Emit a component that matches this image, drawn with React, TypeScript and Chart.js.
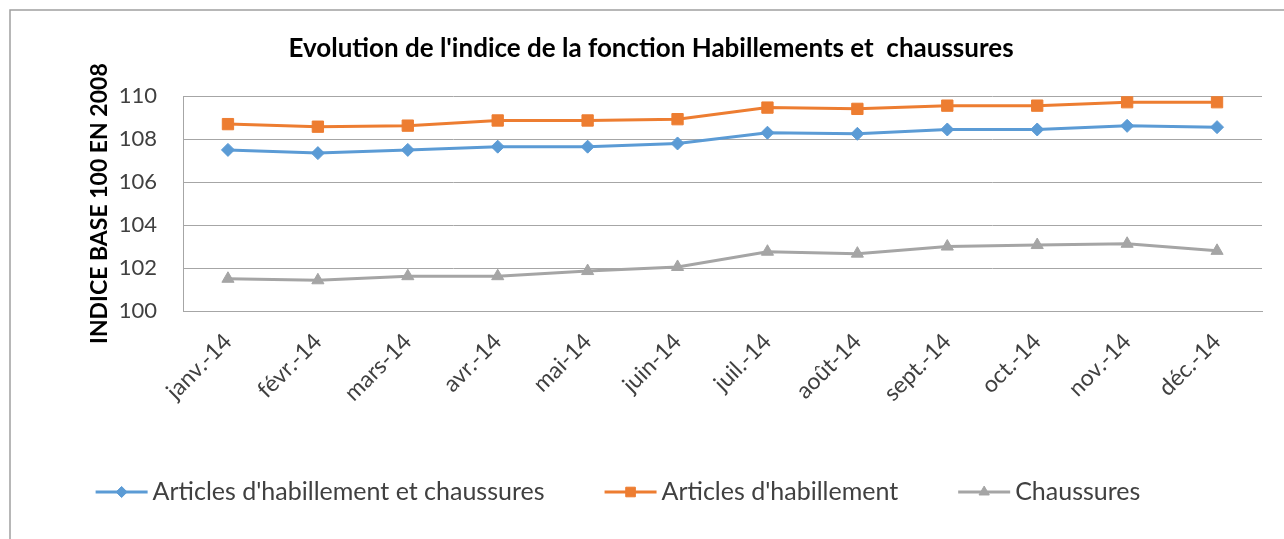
import React, { useEffect, useRef } from 'react';
import { Chart, registerables } from 'chart.js';
import { drawPoint } from 'chart.js/helpers';

Chart.register(...registerables);

const months = ['janv.-14', 'févr.-14', 'mars-14', 'avr.-14', 'mai-14', 'juin-14', 'juil.-14', 'août-14', 'sept.-14', 'oct.-14', 'nov.-14', 'déc.-14'];
const articlesEtChaussures = [107.5, 107.35, 107.5, 107.65, 107.65, 107.8, 108.3, 108.25, 108.45, 108.45, 108.62, 108.56];
const articlesHabillement = [108.7, 108.58, 108.63, 108.87, 108.87, 108.93, 109.47, 109.41, 109.56, 109.56, 109.72, 109.72];
const chaussures = [101.5, 101.43, 101.62, 101.62, 101.86, 102.05, 102.76, 102.67, 103.0, 103.07, 103.13, 102.8];
const seriesLabels = ["Articles d'habillement et chaussures", "Articles d'habillement", 'Chaussures'];
const yMin = 100;
const yMax = 110;
const yStep = 2;
const titleText = "Evolution de l'indice de la fonction Habillements et  chaussures";
const yTitleText = 'INDICE BASE 100 EN 2008';

const FONT = 'Lato';
const TEXT_GRAY = '#404040';
const GRID = '#a6a6a6';

const framePlugin = {
  id: 'frame',
  beforeDraw(chart: any) {
    const { ctx, width, height } = chart;
    ctx.save();
    ctx.fillStyle = '#ffffff';
    ctx.fillRect(0, 0, width, height);
    ctx.strokeStyle = '#a0a0a0';
    ctx.lineWidth = 1.5;
    ctx.beginPath();
    ctx.moveTo(10, height);
    ctx.lineTo(10, 10);
    ctx.lineTo(width, 10);
    ctx.stroke();
    ctx.restore();
  },
};

const legendPlugin = {
  id: 'customLegend',
  afterDraw(chart: any) {
    const { ctx } = chart;
    const datasets = chart.data.datasets;
    ctx.save();
    const fontSize = 25;
    ctx.font = `${fontSize}px ${FONT}`;
    const lineW = 52;
    const gap1 = 5;
    const gap2 = 60;
    const widths = datasets.map((d: any) => ctx.measureText(d.label).width);
    let total = 0;
    widths.forEach((w: number, i: number) => {
      total += lineW + gap1 + w + (i > 0 ? gap2 : 0);
    });
    const centerX = 618;
    const cy = 492;
    let x = centerX - total / 2;
    datasets.forEach((d: any, i: number) => {
      ctx.strokeStyle = d.borderColor;
      ctx.lineWidth = 3;
      ctx.beginPath();
      ctx.moveTo(x, cy);
      ctx.lineTo(x + lineW, cy);
      ctx.stroke();
      ctx.fillStyle = d.pointBackgroundColor;
      ctx.strokeStyle = d.pointBorderColor;
      ctx.lineWidth = 1;
      drawPoint(ctx, { pointStyle: d.pointStyle, radius: d.pointRadius * 0.85, borderWidth: 1, rotation: 0 } as any, x + lineW / 2, cy);
      ctx.fillStyle = TEXT_GRAY;
      ctx.textAlign = 'left';
      ctx.textBaseline = 'middle';
      ctx.font = `${fontSize}px ${FONT}`;
      ctx.fillText(d.label, x + lineW + gap1, cy);
      x += lineW + gap1 + widths[i] + gap2;
    });
    ctx.restore();
  },
};

export default function App() {
  const canvasRef = useRef<HTMLCanvasElement | null>(null);

  useEffect(() => {
    const canvas = canvasRef.current;
    if (!canvas) return;
    const mk = (label: string, data: number[], color: string, style: string, radius: number) => ({
      label,
      data,
      borderColor: color,
      backgroundColor: color,
      pointBackgroundColor: color,
      pointBorderColor: color,
      pointStyle: style,
      pointRadius: radius,
      pointBorderWidth: 1,
      borderWidth: 3,
      tension: 0,
      fill: false,
    });
    const chart = new Chart(canvas, {
      type: 'line',
      data: {
        labels: months,
        datasets: [
          mk(seriesLabels[0], articlesEtChaussures, '#5B9BD5', 'rectRot', 6.5),
          mk(seriesLabels[1], articlesHabillement, '#ED7D31', 'rect', 8),
          mk(seriesLabels[2], chaussures, '#A5A5A5', 'triangle', 7),
        ] as any,
      },
      options: {
        animation: false,
        responsive: false,
        maintainAspectRatio: false,
        layout: { padding: { top: 0, left: 40, right: 22, bottom: 108 } },
        plugins: {
          legend: { display: false },
          tooltip: { enabled: false },
          title: {
            display: true,
            text: titleText,
            color: '#000000',
            font: { family: FONT, size: 26, weight: 'bold' },
            padding: { top: 33, bottom: 32 },
          },
        },
        scales: {
          x: {
            offset: true,
            grid: { display: false, drawTicks: false },
            border: { display: true, color: GRID, width: 1 },
            ticks: {
              color: TEXT_GRAY,
              font: { family: FONT, size: 23 },
              minRotation: 45,
              maxRotation: 45,
              padding: 17,
              autoSkip: false,
            },
            afterFit: (s: any) => {
              s.height = 120;
            },
          },
          y: {
            min: yMin,
            max: yMax,
            grid: { color: GRID, lineWidth: 1, drawTicks: false },
            border: { display: true, color: GRID, width: 1 },
            ticks: {
              stepSize: yStep,
              color: TEXT_GRAY,
              font: { family: FONT, size: 22 },
              padding: 26,
            },
            title: {
              display: true,
              text: yTitleText,
              color: '#000000',
              font: { family: FONT, size: 23, weight: 'bold' },
              padding: { top: 46, bottom: 0 },
            },
            afterFit: (s: any) => {
              s.width = 143;
            },
          },
        },
      } as any,
      plugins: [framePlugin, legendPlugin],
    });
    return () => chart.destroy();
  }, []);

  return (
    <div style={{ position: 'fixed', left: 0, top: 0, width: 1284, height: 539, background: '#fff' }}>
      <canvas ref={canvasRef} width={1284} height={539} style={{ width: 1284, height: 539, display: 'block' }} />
    </div>
  );
}
